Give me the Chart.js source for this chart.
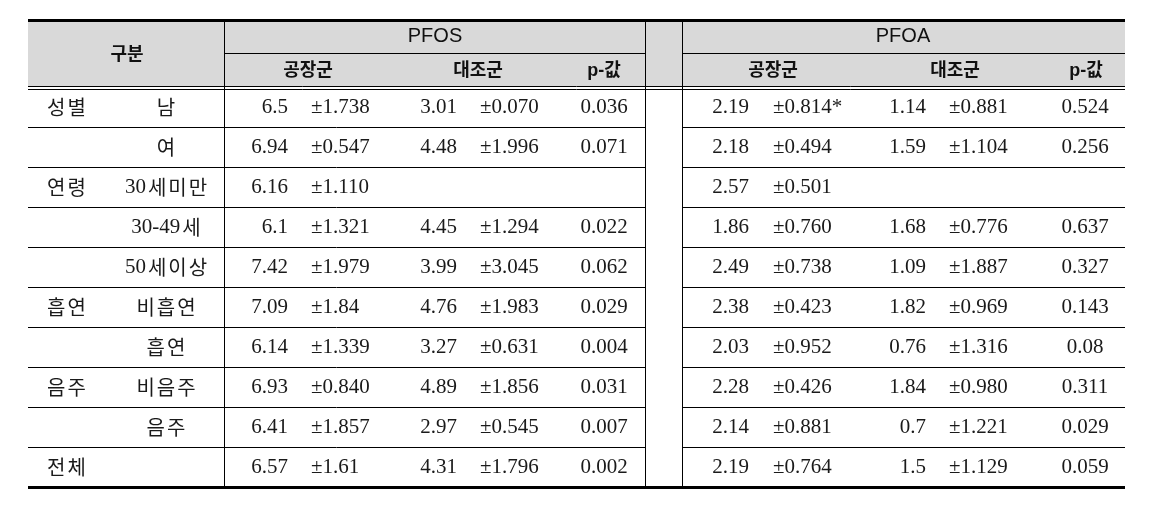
<!DOCTYPE html>
<html lang="ko">
<head>
  <meta charset="UTF-8" />
  <meta name="viewport" content="width=device-width, initial-scale=1.0" />
  <title>PFOS / PFOA 비교표</title>
  <script src="https://cdn.jsdelivr.net/npm/chart.js"></script>
  <style>
    html, body { margin: 0; padding: 0; background: #ffffff; }
    .wrap { width: 1162px; height: 513px; position: relative; }
  </style>
</head>
<body>
  <div class="wrap"><canvas id="table"></canvas></div>

  <script>
    // row labels
    const groups    = ['성별', '', '연령', '', '', '흡연', '', '음주', '', '전체'];
    const subgroups = ['남', '여', '30세미만', '30-49세', '50세이상', '비흡연', '흡연', '비음주', '음주', ''];

    // PFOS
    const pfosFactoryMean = ['6.5', '6.94', '6.16', '6.1', '7.42', '7.09', '6.14', '6.93', '6.41', '6.57'];
    const pfosFactorySD   = ['1.738', '0.547', '1.110', '1.321', '1.979', '1.84', '1.339', '0.840', '1.857', '1.61'];
    const pfosControlMean = ['3.01', '4.48', '', '4.45', '3.99', '4.76', '3.27', '4.89', '2.97', '4.31'];
    const pfosControlSD   = ['0.070', '1.996', '', '1.294', '3.045', '1.983', '0.631', '1.856', '0.545', '1.796'];
    const pfosP           = ['0.036', '0.071', '', '0.022', '0.062', '0.029', '0.004', '0.031', '0.007', '0.002'];

    // PFOA
    const pfoaFactoryMean = ['2.19', '2.18', '2.57', '1.86', '2.49', '2.38', '2.03', '2.28', '2.14', '2.19'];
    const pfoaFactorySD   = ['0.814*', '0.494', '0.501', '0.760', '0.738', '0.423', '0.952', '0.426', '0.881', '0.764'];
    const pfoaControlMean = ['1.14', '1.59', '', '1.68', '1.09', '1.82', '0.76', '1.84', '0.7', '1.5'];
    const pfoaControlSD   = ['0.881', '1.104', '', '0.776', '1.887', '0.969', '1.316', '0.980', '1.221', '1.129'];
    const pfoaP           = ['0.524', '0.256', '', '0.637', '0.327', '0.143', '0.08', '0.311', '0.029', '0.059'];

    const headerTop = ['구분', 'PFOS', 'PFOA'];
    const headerSub = ['공장군', '대조군', 'p-값'];

    const HEAD = 1.675;          // header height in row units
    const HEAD_SPLIT = -0.85;    // line between the two header rows

    const KR = '"Noto Sans CJK KR"';
    const numFont = '21px "Liberation Serif", ' + KR;
    const krFont = '20px ' + KR;

    // korean labels are letter-spaced like the original; digits use the number font
    function drawSpaced(ctx, text, x, y, gap, align) {
      const chars = Array.from(text);
      const isKr = c => /[\uac00-\ud7a3]/.test(c);
      const fontOf = c => isKr(c) ? krFont : numFont;
      const widths = chars.map(c => { ctx.font = fontOf(c); return ctx.measureText(c).width; });
      const gapAfter = i => (i < chars.length - 1 && (isKr(chars[i]) || isKr(chars[i + 1]))) ? gap : 0;
      let total = 0;
      chars.forEach((c, i) => { total += widths[i] + gapAfter(i); });
      let cx = align === 'center' ? x - total / 2 : x;
      ctx.textAlign = 'left';
      chars.forEach((c, i) => {
        ctx.font = fontOf(c);
        ctx.fillText(c, cx, y);
        cx += widths[i] + gapAfter(i);
      });
    }

    const tablePlugin = {
      id: 'tablePlugin',
      afterDraw(chart) {
        const ctx = chart.ctx;
        const X = v => chart.scales.x.getPixelForValue(v);
        const Y = v => chart.scales.y.getPixelForValue(v);
        const L = X(28), R = X(1125);
        const top = Y(-HEAD), bottom = Y(subgroups.length);
        const body0 = Y(0);

        ctx.save();
        // header background
        ctx.fillStyle = '#d9d9d9';
        ctx.fillRect(L, top, R - L, body0 - top - 1);

        ctx.strokeStyle = '#000';
        const hline = (x1, x2, y, w) => {
          ctx.lineWidth = w;
          ctx.beginPath();
          const yy = w % 2 ? Math.round(y) + 0.5 : Math.round(y);
          ctx.moveTo(x1, yy); ctx.lineTo(x2, yy); ctx.stroke();
        };
        const vline = (x, y1, y2) => {
          ctx.lineWidth = 1;
          ctx.beginPath();
          const xx = Math.round(x) + 0.5;
          ctx.moveTo(xx, y1); ctx.lineTo(xx, y2); ctx.stroke();
        };

        hline(L, R, top, 3);
        hline(X(224), X(645), Y(HEAD_SPLIT), 1);
        hline(X(682), R, Y(HEAD_SPLIT), 1);
        hline(L, R, body0 - 1, 1);
        hline(L, R, body0 + 2, 1);
        for (let i = 1; i < subgroups.length; i++) {
          hline(L, X(645), Y(i), 1);
          hline(X(682), R, Y(i), 1);
        }
        hline(L, R, bottom, 3);
        [224, 645, 682].forEach(v => vline(X(v), top, bottom));

        // header text
        ctx.fillStyle = '#111';
        ctx.textBaseline = 'middle';
        ctx.textAlign = 'center';
        ctx.font = 'bold 18px ' + KR;
        ctx.fillText(headerTop[0], X(127), (top + body0) / 2);
        ctx.font = '20px "Liberation Sans", ' + KR;
        ctx.fillText(headerTop[1], X(435), Y((-HEAD + HEAD_SPLIT) / 2));
        ctx.fillText(headerTop[2], X(903), Y((-HEAD + HEAD_SPLIT) / 2));
        ctx.font = 'bold 18px "Liberation Sans", ' + KR;
        const subY = Y(HEAD_SPLIT / 2) + 1;
        [[308, 478, 604], [773, 955, 1086]].forEach(cols => {
          cols.forEach((c, k) => ctx.fillText(headerSub[k], X(c), subY));
        });

        // body
        ctx.fillStyle = '#1a1a1a';
        subgroups.forEach((sg, i) => {
          const y = Y(i + 0.5);
          if (groups[i]) drawSpaced(ctx, groups[i], X(47), y, 2, 'left');
          if (sg) drawSpaced(ctx, sg, X(166), y, 2, 'center');

          ctx.font = numFont;
          const cells = [
            [pfosFactoryMean[i], 288, 'right'], [pfosFactorySD[i], 311, 'left', true],
            [pfosControlMean[i], 457, 'right'], [pfosControlSD[i], 480, 'left', true],
            [pfosP[i], 604, 'center'],
            [pfoaFactoryMean[i], 749, 'right'], [pfoaFactorySD[i], 773, 'left', true],
            [pfoaControlMean[i], 926, 'right'], [pfoaControlSD[i], 949, 'left', true],
            [pfoaP[i], 1085, 'center']
          ];
          cells.forEach(([txt, cx, align, pm]) => {
            if (!txt) return;
            ctx.textAlign = align;
            ctx.fillText(pm ? '±' + txt : txt, X(cx), y);
          });
        });
        ctx.restore();
      }
    };

    new Chart(document.getElementById('table'), {
      type: 'scatter',
      data: { datasets: [] },
      options: {
        responsive: true,
        maintainAspectRatio: false,
        animation: false,
        layout: { padding: { left: 28, right: 37, top: 20, bottom: 26 } },
        plugins: { legend: { display: false }, tooltip: { enabled: false } },
        scales: {
          x: { type: 'linear', min: 28, max: 1125, display: false },
          y: { type: 'linear', min: -HEAD, max: subgroups.length, reverse: true, display: false }
        }
      },
      plugins: [tablePlugin]
    });
  </script>
</body>
</html>
